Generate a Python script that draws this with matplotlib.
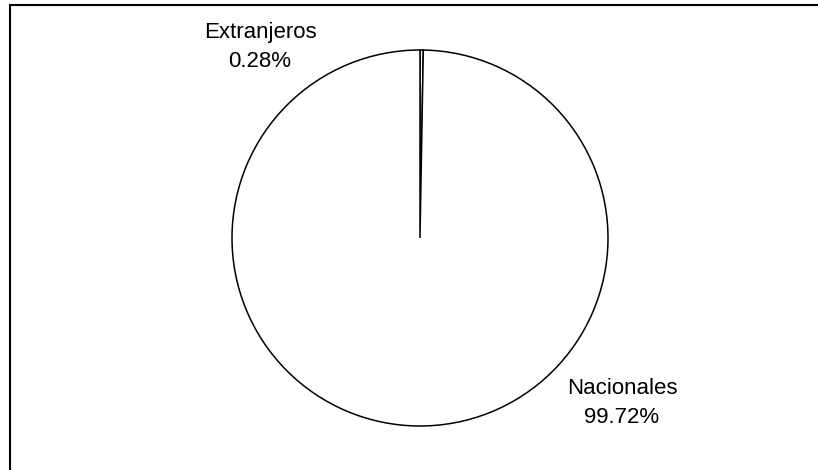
import matplotlib.pyplot as plt
from matplotlib.patches import Rectangle

plt.rcParams['font.family'] = ['Liberation Sans', 'DejaVu Sans']

labels = ['Extranjeros', 'Nacionales']
values = [0.28, 99.72]
label_pos = [(-0.851, 1.016), (1.074, -0.878)]

fig = plt.figure(figsize=(8.18, 4.70), dpi=100)

# marco de la figura (recortado a la derecha y abajo)
fig.patches.append(Rectangle((10 / 818, -0.05), 1.2, 1 - 5 / 470 + 0.05,
                             transform=fig.transFigure, fill=False,
                             edgecolor='black', linewidth=1.5))

ax = fig.add_axes([(420 - 188) / 818, 44 / 470, 376 / 818, 376 / 470])
ax.pie(values, startangle=90, counterclock=False, colors=['white', 'white'],
       wedgeprops={'edgecolor': 'black', 'linewidth': 1.1}, radius=1)
ax.set_xlim(-1, 1)
ax.set_ylim(-1, 1)
ax.set_aspect('equal')
ax.axis('off')

for name, val, (x, y) in zip(labels, values, label_pos):
    ax.text(x, y, f"{name}\n{val:.2f}%", ha='center', va='center',
            fontsize=16, linespacing=1.5)

fig.savefig('out.png', dpi=100)
